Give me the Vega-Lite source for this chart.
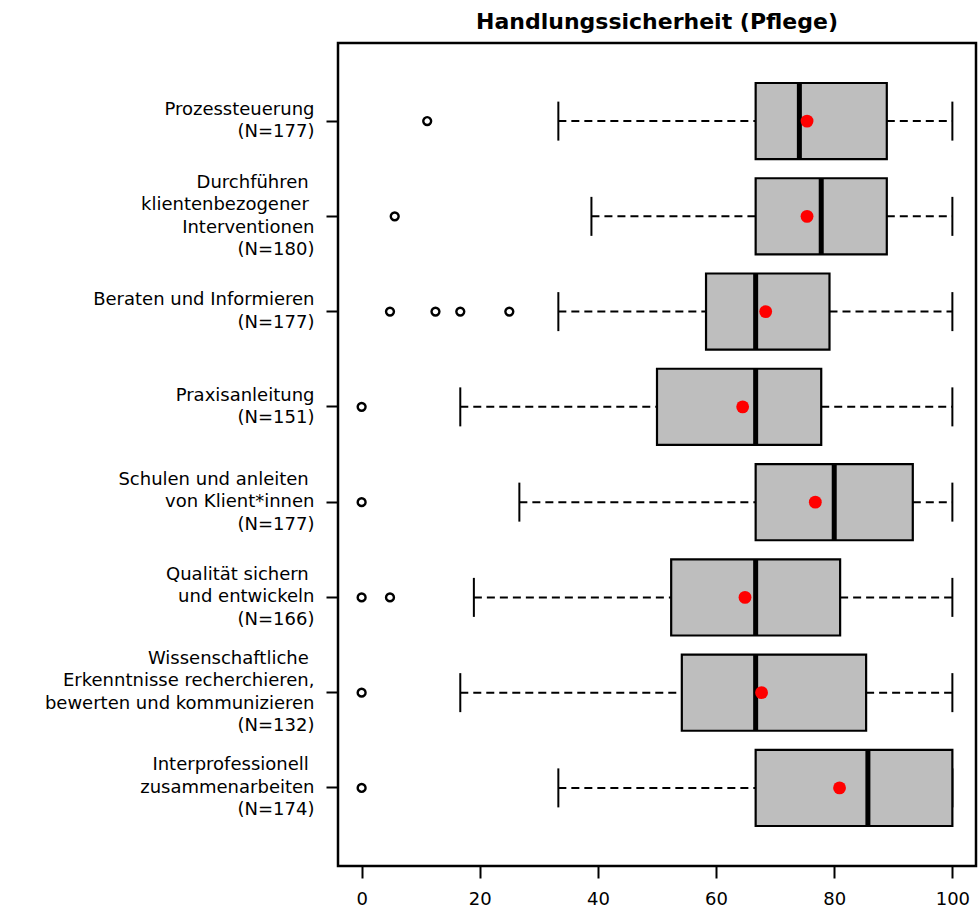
{
  "$schema": "https://vega.github.io/schema/vega-lite/v6.json",
  "autosize": {"type": "none"},
  "width": 638,
  "height": 823,
  "padding": {"left": 338, "top": 43, "right": 2, "bottom": 44},
  "background": "white",
  "title": {
    "text": "Handlungssicherheit (Pflege)",
    "frame": "group",
    "anchor": "middle",
    "font": "DejaVu Sans",
    "fontSize": 22,
    "fontWeight": "bold",
    "color": "black",
    "offset": 9
  },
  "config": {
    "view": {"stroke": "black", "strokeWidth": 2.5},
    "axis": {"grid": false, "domain": false, "labelFont": "DejaVu Sans", "labelColor": "black", "tickColor": "black", "tickWidth": 2, "tickSize": 12, "title": null}
  },
  "datasets": {
    "boxes": [
      {"cat": "Prozessteuerung|(N=177)", "lo": 33.3, "q1": 66.7, "med": 74.1, "q3": 88.9, "hi": 100, "mean": 75.4},
      {"cat": "Durchführen \u200b|klientenbezogener \u200b|Interventionen|(N=180)", "lo": 38.9, "q1": 66.7, "med": 77.8, "q3": 88.9, "hi": 100, "mean": 75.4},
      {"cat": "Beraten und Informieren|(N=177)", "lo": 33.3, "q1": 58.3, "med": 66.7, "q3": 79.2, "hi": 100, "mean": 68.4},
      {"cat": "Praxisanleitung|(N=151)", "lo": 16.7, "q1": 50.0, "med": 66.7, "q3": 77.8, "hi": 100, "mean": 64.5},
      {"cat": "Schulen und anleiten \u200b|von Klient*innen|(N=177)", "lo": 26.7, "q1": 66.7, "med": 80.0, "q3": 93.3, "hi": 100, "mean": 76.8},
      {"cat": "Qualität sichern \u200b|und entwickeln|(N=166)", "lo": 19.0, "q1": 52.4, "med": 66.7, "q3": 81.0, "hi": 100, "mean": 64.9},
      {"cat": "Wissenschaftliche \u200b|Erkenntnisse recherchieren,|bewerten und kommunizieren|(N=132)", "lo": 16.7, "q1": 54.2, "med": 66.7, "q3": 85.4, "hi": 100, "mean": 67.7},
      {"cat": "Interprofessionell \u200b|zusammenarbeiten|(N=174)", "lo": 33.3, "q1": 66.7, "med": 85.7, "q3": 100, "hi": 100, "mean": 80.9}
    ],
    "outliers": [
      {"cat": "Prozessteuerung|(N=177)", "v": 11.1},
      {"cat": "Durchführen \u200b|klientenbezogener \u200b|Interventionen|(N=180)", "v": 5.6},
      {"cat": "Beraten und Informieren|(N=177)", "v": 4.8},
      {"cat": "Beraten und Informieren|(N=177)", "v": 12.5},
      {"cat": "Beraten und Informieren|(N=177)", "v": 16.7},
      {"cat": "Beraten und Informieren|(N=177)", "v": 25.0},
      {"cat": "Praxisanleitung|(N=151)", "v": 0},
      {"cat": "Schulen und anleiten \u200b|von Klient*innen|(N=177)", "v": 0},
      {"cat": "Qualität sichern \u200b|und entwickeln|(N=166)", "v": 0},
      {"cat": "Qualität sichern \u200b|und entwickeln|(N=166)", "v": 4.8},
      {"cat": "Wissenschaftliche \u200b|Erkenntnisse recherchieren,|bewerten und kommunizieren|(N=132)", "v": 0},
      {"cat": "Interprofessionell \u200b|zusammenarbeiten|(N=174)", "v": 0}
    ]
  },
  "encoding": {
    "y": {
      "field": "cat",
      "type": "nominal",
      "sort": null,
      "scale": {
        "domain": [
          "Prozessteuerung|(N=177)",
          "Durchführen \u200b|klientenbezogener \u200b|Interventionen|(N=180)",
          "Beraten und Informieren|(N=177)",
          "Praxisanleitung|(N=151)",
          "Schulen und anleiten \u200b|von Klient*innen|(N=177)",
          "Qualität sichern \u200b|und entwickeln|(N=166)",
          "Wissenschaftliche \u200b|Erkenntnisse recherchieren,|bewerten und kommunizieren|(N=132)",
          "Interprofessionell \u200b|zusammenarbeiten|(N=174)"
        ],
        "paddingInner": 0.2,
        "paddingOuter": 0.42
      },
      "axis": {
        "labelExpr": "split(datum.label, '|')",
        "labelFontSize": 18,
        "labelLineHeight": 22.5,
        "labelOffset": {
          "condition": [
            {"test": "length(split(datum.value, '|')) == 4", "value": -33.75},
            {"test": "length(split(datum.value, '|')) == 3", "value": -22.5}
          ],
          "value": -11.25
        },
        "labelPadding": 12,
        "labelLimit": 400,
        "labelAlign": "right",
        "labelBaseline": "middle"
      }
    }
  },
  "layer": [
    {
      "data": {"name": "boxes"},
      "mark": {"type": "rule", "color": "black", "strokeWidth": 2, "strokeDash": [8, 5]},
      "encoding": {
        "x": {"field": "lo", "type": "quantitative", "scale": {"domain": [-4, 104], "nice": false, "zero": false},
          "axis": {"values": [0, 20, 40, 60, 80, 100], "labelFontSize": 18, "labelPadding": 12, "orient": "bottom"}},
        "x2": {"field": "q1"}
      }
    },
    {
      "data": {"name": "boxes"},
      "mark": {"type": "rule", "color": "black", "strokeWidth": 2, "strokeDash": [8, 5]},
      "encoding": {
        "x": {"field": "q3", "type": "quantitative"},
        "x2": {"field": "hi"}
      }
    },
    {
      "data": {"name": "boxes"},
      "mark": {"type": "tick", "color": "black", "thickness": 2, "size": 39, "orient": "vertical", "opacity": 1},
      "encoding": {"x": {"field": "lo", "type": "quantitative"}}
    },
    {
      "data": {"name": "boxes"},
      "mark": {"type": "tick", "color": "black", "thickness": 2, "size": 39, "orient": "vertical", "opacity": 1},
      "encoding": {"x": {"field": "hi", "type": "quantitative"}}
    },
    {
      "data": {"name": "boxes"},
      "mark": {"type": "bar", "fill": "#BEBEBE", "stroke": "black", "strokeWidth": 2.2, "opacity": 1},
      "encoding": {
        "x": {"field": "q1", "type": "quantitative"},
        "x2": {"field": "q3"}
      }
    },
    {
      "data": {"name": "boxes"},
      "mark": {"type": "tick", "color": "black", "thickness": 5, "size": 76, "orient": "vertical", "opacity": 1},
      "encoding": {"x": {"field": "med", "type": "quantitative"}}
    },
    {
      "data": {"name": "outliers"},
      "mark": {"type": "point", "shape": "circle", "filled": false, "stroke": "black", "strokeWidth": 2.4, "size": 62, "opacity": 1},
      "encoding": {"x": {"field": "v", "type": "quantitative"}}
    },
    {
      "data": {"name": "boxes"},
      "mark": {"type": "point", "shape": "circle", "filled": true, "color": "#FF0000", "size": 165, "opacity": 1},
      "encoding": {"x": {"field": "mean", "type": "quantitative"}}
    }
  ]
}
